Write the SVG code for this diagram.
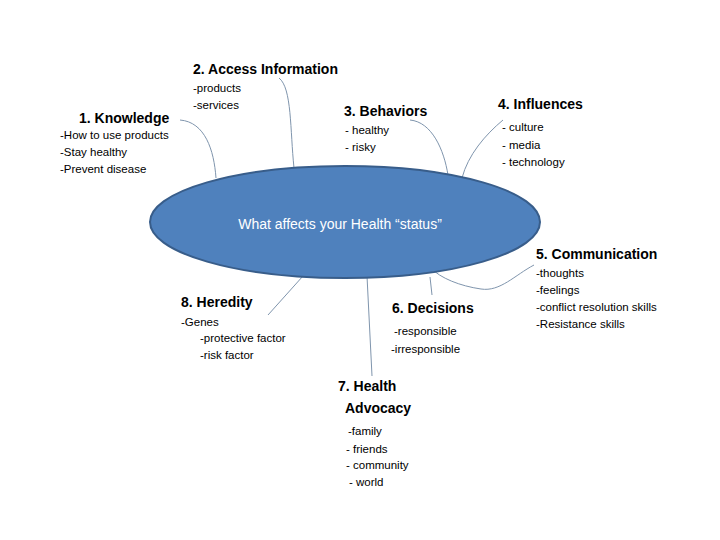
<svg xmlns="http://www.w3.org/2000/svg" width="720" height="540" viewBox="0 0 720 540">
<style>
.t{font-family:"Liberation Sans",Arial,sans-serif;font-size:14px;font-weight:bold;fill:#000}
.b{font-family:"Liberation Sans",Arial,sans-serif;font-size:11.5px;fill:#000}
.c{fill:none;stroke:#7f95ad;stroke-width:1}
</style>
<rect width="720" height="540" fill="#fff"/>
<g id="connectors">
<path class="c" d="M180,120 C205,122 214,150 216,178"/>
<path class="c" d="M279,78 C292,88 290,130 294,168"/>
<path class="c" d="M410,120 C432,122 444,150 448,175"/>
<path class="c" d="M503,120 C485,135 468,155 462,178"/>
<path class="c" d="M534,265 C515,275 500,292 481,289 C460,286 440,278 431,268"/>
<path class="c" d="M430,277 L432,295"/>
<path class="c" d="M367,276 L372,376"/>
<path class="c" d="M303,276 L268,315"/>
</g>
<g id="center">
<ellipse cx="345" cy="222" rx="195" ry="56" fill="#4f81bd" stroke="#385d8a" stroke-width="2"/>
<text x="340" y="229" text-anchor="middle" font-family="Liberation Sans,Arial,sans-serif" font-size="14" fill="#fff">What affects your Health “status”</text>
</g>
<g id="knowledge">
<text class="t" x="79" y="123">1. Knowledge</text>
<text class="b" x="60" y="139">-How to use products</text>
<text class="b" x="60" y="156">-Stay healthy</text>
<text class="b" x="60" y="173">-Prevent disease</text>
</g>
<g id="access">
<text class="t" x="193" y="74">2. Access Information</text>
<text class="b" x="193" y="92">-products</text>
<text class="b" x="193" y="109">-services</text>
</g>
<g id="behaviors">
<text class="t" x="344" y="116">3. Behaviors</text>
<text class="b" x="345" y="134">- healthy</text>
<text class="b" x="345" y="151">- risky</text>
</g>
<g id="influences">
<text class="t" x="498" y="109">4. Influences</text>
<text class="b" x="502" y="131">- culture</text>
<text class="b" x="502" y="149">- media</text>
<text class="b" x="502" y="166">- technology</text>
</g>
<g id="communication">
<text class="t" x="536" y="259">5. Communication</text>
<text class="b" x="536" y="277">-thoughts</text>
<text class="b" x="536" y="294">-feelings</text>
<text class="b" x="536" y="311">-conflict resolution skills</text>
<text class="b" x="536" y="328">-Resistance skills</text>
</g>
<g id="decisions">
<text class="t" x="392" y="313">6. Decisions</text>
<text class="b" x="394" y="335">-responsible</text>
<text class="b" x="391" y="353">-irresponsible</text>
</g>
<g id="advocacy">
<text class="t" x="338" y="391">7. Health</text>
<text class="t" x="345" y="413">Advocacy</text>
<text class="b" x="348" y="435">-family</text>
<text class="b" x="346" y="453">- friends</text>
<text class="b" x="346" y="469">- community</text>
<text class="b" x="349" y="486">- world</text>
</g>
<g id="heredity">
<text class="t" x="181" y="307">8. Heredity</text>
<text class="b" x="181" y="326">-Genes</text>
<text class="b" x="200" y="342">-protective factor</text>
<text class="b" x="200" y="359">-risk factor</text>
</g>
</svg>
